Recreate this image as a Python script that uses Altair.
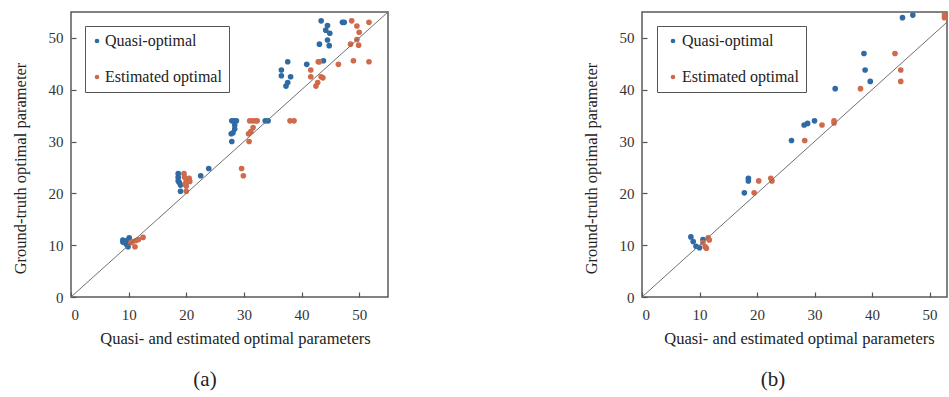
import altair as alt
import pandas as pd

# ---------------- data ----------------
TICK_VALUES = [0, 10, 20, 30, 40, 50]
SERIES = ["Quasi-optimal", "Estimated optimal"]
COLORS = ["#2f6aa3", "#cf6a4b"]

# panel (a)
a_quasi_x = [43.4, 44.5, 44.2, 44.9, 47.1, 47.4, 44.5, 44.8, 43.1, 43.8, 37.6, 40.9, 36.5, 36.5, 38.1, 37.6, 37.3,
             27.9, 28.3, 28.7, 28.4, 28.4, 27.8, 28.1, 27.9, 33.7, 34.2,
             18.6, 18.6, 18.6, 18.8, 19.0, 19.0, 22.5, 23.9,
             9.0, 9.0, 10.1, 9.9, 9.9, 9.6, 9.4]
a_quasi_y = [53.3, 52.4, 51.5, 50.9, 53.0, 53.0, 49.6, 48.5, 48.8, 45.6, 45.4, 44.9, 43.8, 42.7, 42.5, 41.4, 40.7,
             34.0, 34.0, 34.0, 33.2, 32.4, 31.5, 31.7, 30.0, 34.0, 34.0,
             23.8, 23.1, 22.4, 22.1, 21.6, 20.4, 23.4, 24.8,
             11.0, 10.6, 11.4, 11.0, 9.7, 10.2, 10.8]
a_est_x = [48.7, 51.7, 49.6, 50.0, 49.6, 48.5, 49.9, 42.9, 43.1, 46.4, 49.0, 51.7, 41.6, 41.6, 43.4, 43.7, 42.8, 42.5,
           31.0, 31.5, 32.0, 32.3, 31.6, 31.2, 30.8, 30.9, 38.0, 38.7, 29.6, 29.9,
           19.6, 19.7, 20.5, 20.0, 20.6, 19.8, 20.0, 20.0,
           10.7, 11.1, 11.3, 11.7, 12.5, 10.4]
a_est_y = [53.3, 53.0, 52.3, 51.1, 49.7, 48.8, 48.6, 45.4, 45.4, 44.9, 45.6, 45.4, 43.8, 42.5, 42.5, 42.3, 41.4, 40.7,
           34.0, 34.0, 34.0, 34.0, 32.7, 31.9, 31.5, 30.0, 34.0, 34.0, 24.8, 23.4,
           23.8, 23.1, 22.9, 22.4, 22.3, 21.8, 21.4, 20.4,
           10.7, 9.7, 10.9, 11.1, 11.5, 10.5]

# panel (b)
b_quasi_x = [45.3, 47.1, 38.6, 38.8, 39.7, 33.6, 28.2, 28.8, 30.0, 26.0, 18.5, 18.5, 17.8, 8.5, 8.9, 9.4, 10.0, 10.6]
b_quasi_y = [53.9, 54.4, 47.0, 43.8, 41.6, 40.2, 33.2, 33.5, 34.0, 30.2, 22.9, 22.4, 20.1, 11.6, 10.7, 9.8, 9.5, 11.1]
b_est_x = [52.6, 52.6, 44.0, 45.0, 45.0, 38.0, 31.3, 33.4, 33.4, 28.3, 20.3, 22.4, 22.6, 19.5, 10.6, 11.0, 11.2, 11.5, 11.7]
b_est_y = [54.4, 53.9, 47.0, 43.8, 41.6, 40.2, 33.2, 34.0, 33.6, 30.2, 22.4, 22.9, 22.4, 20.1, 10.5, 9.7, 9.4, 11.4, 11.0]

DIAG = [0, 55]

SERIF = "Liberation Serif"


def panel(qx, qy, ex, ey, width, xmax, label, lx, ly, title_dx, sym_off, lab_off, xtitle_x):
    df = pd.DataFrame({
        "x": qx + ex,
        "y": qy + ey,
        "series": [SERIES[0]] * len(qx) + [SERIES[1]] * len(ex),
    })
    diag = pd.DataFrame({"x": DIAG, "y": DIAG})
    xs = alt.Scale(domain=[0, xmax], nice=False, zero=False)
    ys = alt.Scale(domain=[0, 55], nice=False, zero=False)
    xaxis = alt.Axis(values=TICK_VALUES, title="Quasi- and estimated optimal parameters", grid=False,
                     domain=False, ticks=True, tickSize=5, offset=-5, tickColor="#555555", tickWidth=1.2,
                     labelPadding=10, labelFont=SERIF, labelFontSize=15, labelColor="#333333",
                     titleFont=SERIF, titleFontSize=16.5, titleFontWeight="normal", titleColor="#222222",
                     titlePadding=8, titleX=xtitle_x)
    yaxis = alt.Axis(values=TICK_VALUES, title="Ground-truth optimal parameter", grid=False,
                     domain=False, ticks=True, tickSize=5, offset=-5, tickColor="#555555", tickWidth=1.2,
                     labelPadding=8, labelFont=SERIF, labelFontSize=15, labelColor="#333333",
                     titleFont=SERIF, titleFontSize=16.5, titleFontWeight="normal", titleColor="#222222",
                     titlePadding=20, titleY=156)
    pts = alt.Chart(df).mark_circle(size=32, opacity=1, clip=True).encode(
        x=alt.X("x:Q", scale=xs, axis=xaxis),
        y=alt.Y("y:Q", scale=ys, axis=yaxis),
        color=alt.Color("series:N", scale=alt.Scale(domain=SERIES, range=COLORS),
                        legend=alt.Legend(orient="none", legendX=lx, legendY=ly, title=None,
                                          strokeColor="#555555", fillColor="white", padding=7,
                                          rowPadding=20, labelOffset=lab_off, symbolOffset=sym_off,
                                          symbolSize=22, symbolType="circle", labelFont=SERIF,
                                          labelFontSize=16, labelColor="#222222", labelLimit=300)),
    )
    line = alt.Chart(diag).mark_line(color="#707070", strokeWidth=1, clip=True).encode(
        x=alt.X("x:Q", scale=xs, axis=xaxis),
        y=alt.Y("y:Q", scale=ys, axis=yaxis),
    )
    return alt.layer(pts, line).properties(
        width=width, height=285,
        title=alt.TitleParams(label, orient="bottom", anchor="middle", frame="bounds",
                              font=SERIF, fontSize=21, fontWeight="normal", color="#222222",
                              offset=22, dx=title_dx),
    )


pa = panel(a_quasi_x, a_quasi_y, a_est_x, a_est_y, 317, 55, "(a)", 14, 14, 5, -3, 0, 164)
pb = panel(b_quasi_x, b_quasi_y, b_est_x, b_est_y, 305, 305 / 5.75, "(b)", 15, 14, 8, 1, 1, 157)

chart = alt.hconcat(pa, pb, spacing=193).resolve_legend(color="independent").properties(
    padding={"left": 11, "top": 11, "right": 0, "bottom": 0}
).configure(background="white", font=SERIF).configure_view(
    stroke="#595959", strokeWidth=1.5
).configure_axis(labelFont=SERIF, titleFont=SERIF).configure_legend(labelFont=SERIF)

chart.save("out.html", embed_options={"renderer": "svg", "actions": False})
